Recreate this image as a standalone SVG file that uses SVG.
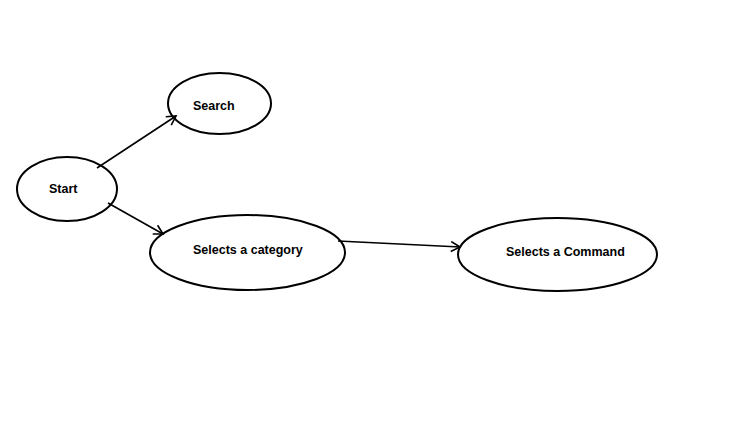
<svg xmlns="http://www.w3.org/2000/svg" width="750" height="447" viewBox="0 0 750 447">
<style>
.node ellipse{fill:#fff;stroke:#000;stroke-width:2}
.node text{font-family:"Liberation Sans",Arial,sans-serif;font-weight:bold;font-size:12.5px;fill:#000}
.edge{stroke:#000;stroke-width:1.6;fill:none;marker-end:url(#arr)}
</style>
<defs>
<marker id="arr" markerWidth="14" markerHeight="14" refX="10" refY="6" orient="auto" markerUnits="userSpaceOnUse">
<path d="M1,1 L10,6 L1,11" fill="none" stroke="#000" stroke-width="1.6"/>
</marker>
</defs>
<rect width="750" height="447" fill="#fff"/>
<g id="start" class="node">
<ellipse cx="67" cy="189" rx="50" ry="32"/>
<text x="49" y="193">Start</text>
</g>
<g id="search" class="node">
<ellipse cx="219.5" cy="103.5" rx="51.5" ry="30.5"/>
<text x="193" y="110">Search</text>
</g>
<g id="category" class="node">
<ellipse cx="247.5" cy="252.5" rx="97.5" ry="37.5"/>
<text x="193" y="254">Selects a category</text>
</g>
<g id="command" class="node">
<ellipse cx="557.5" cy="254.5" rx="99.5" ry="36.5"/>
<text x="506" y="256">Selects a Command</text>
</g>
<g id="connectors">
<line class="edge" x1="97" y1="168" x2="176" y2="116"/>
<line class="edge" x1="108" y1="203" x2="163" y2="234"/>
<line class="edge" x1="338" y1="241" x2="460" y2="247"/>
</g>
</svg>
